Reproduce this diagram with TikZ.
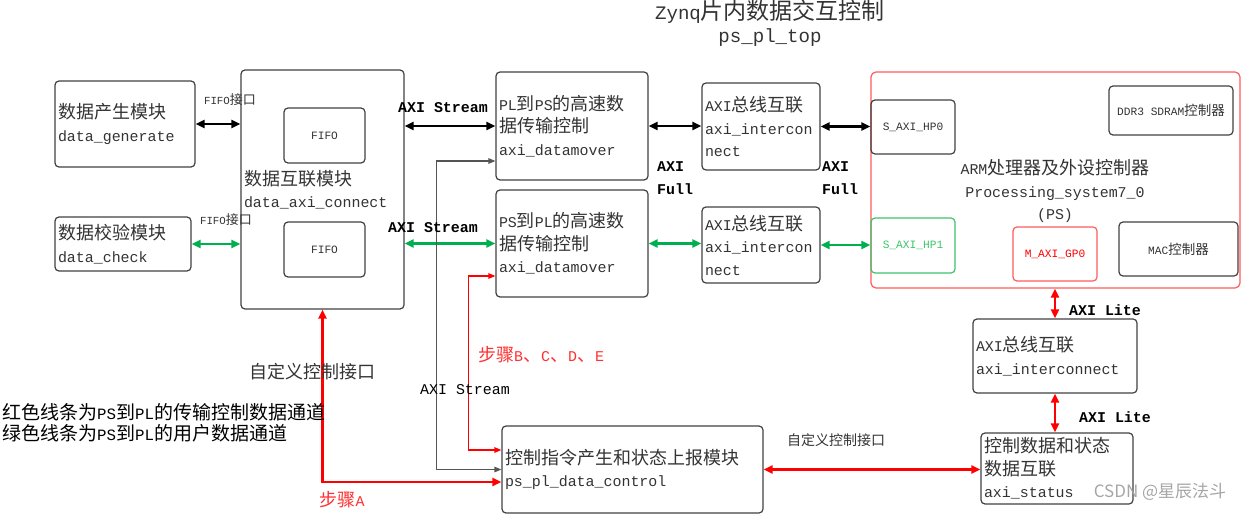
\documentclass[tikz,border=0pt]{standalone}
\usepackage{fontspec}
\setmainfont{Liberation Mono}[Scale=0.83]
\newfontfamily\cjk{Noto Sans CJK SC}
\newcommand\zw[1]{{\cjk #1}}
\usetikzlibrary{arrows.meta,calc}
\definecolor{boxc}{HTML}{404040}
\definecolor{txt}{HTML}{333333}
\definecolor{grn}{HTML}{00B050}
\definecolor{psred}{HTML}{FF5B5B}
\definecolor{hpgrn}{HTML}{3CC36A}
\definecolor{gryline}{HTML}{555555}
\definecolor{lblred}{HTML}{FF3030}
\begin{document}
\begin{tikzpicture}[x=1pt,y=-1pt,
  box/.style={draw=boxc, line width=1.2pt, rounded corners=4pt, inner xsep=3pt, inner ysep=0pt,
    align=left, text=txt, font=\fontsize{18}{22.5}\selectfont},
  sbox/.style={draw=boxc, line width=1.2pt, rounded corners=4pt, inner sep=0pt,
    align=center, text=txt, font=\fontsize{13.5}{16}\selectfont},
  lbl/.style={inner sep=0pt, text=black, font=\bfseries\fontsize{18}{22.5}\selectfont},
  plain/.style={inner sep=0pt, text=txt, font=\fontsize{18}{22.5}\selectfont},
  slbl/.style={inner sep=0pt, text=txt, font=\fontsize{13}{16}\selectfont},
  thk/.style={line width=2.2pt, {Triangle[length=9pt,width=8pt]}-{Triangle[length=9pt,width=8pt]}},
  thin/.style={line width=1.2pt, {Triangle[length=7pt,width=5.5pt]}-{Triangle[length=7pt,width=5.5pt]}},
  blk/.style={thk, draw=black},
  gline/.style={thk, draw=grn},
  rline/.style={thk, draw=red}
]
\useasboundingbox (0,0) rectangle (1243,516);

% title
\node[inner sep=0pt, text=txt, font=\fontsize{23}{28}\selectfont] (title) at (770,12) {Zynq\zw{片内数据交互控制}};
\node[inner sep=0pt, text=txt, font=\fontsize{23}{28}\selectfont] (top) at (770,38) {ps\_pl\_top};

% boxes
\node[box, minimum height=86pt, text width=134pt] (gen) at (125,124) {\zw{数据产生模块}\\data\_generate};
\node[box, minimum height=54pt, text width=130pt] (chk) at (123,244) {\zw{数据校验模块}\\data\_check};
\node[box, minimum height=239pt, text width=157pt] (conn) at (322.5,189.5) {\zw{数据互联模块}\\data\_axi\_connect};
\node[sbox, minimum width=81pt, minimum height=55pt] (fifo1) at (324.5,135.5) {FIFO};
\node[sbox, minimum width=81pt, minimum height=55pt] (fifo2) at (324.5,249.5) {FIFO};

\node[box, minimum height=108pt, text width=146pt] (pl2ps) at (572,126) {PL\zw{到}PS\zw{的高速数}\\\zw{据传输控制}\\axi\_datamover};
\node[box, minimum height=107pt, text width=146pt] (ps2pl) at (572,243.5) {PS\zw{到}PL\zw{的高速数}\\\zw{据传输控制}\\axi\_datamover};

\node[box, minimum height=87pt, text width=112pt] (ic1) at (761,126.5) {AXI\zw{总线互联}\\axi\_intercon\\nect};
\node[box, minimum height=76pt, text width=112pt] (ic2) at (761,245) {AXI\zw{总线互联}\\axi\_intercon\\nect};

\node[draw=psred, line width=1.2pt, rounded corners=5pt, minimum width=369pt, minimum height=216pt, inner sep=0pt] (ps) at (1055.5,180) {};
\node[inner sep=0pt, align=center, text=txt, font=\fontsize{18}{22.5}\selectfont] (pst) at (1055,191) {ARM\zw{处理器及外设控制器}\\Processing\_system7\_0\\(PS)};
\node[sbox, minimum width=84pt, minimum height=54pt] (hp0) at (913,127) {S\_AXI\_HP0};
\node[sbox, minimum width=124pt, minimum height=49pt] (ddr) at (1171,110.5) {DDR3 SDRAM\zw{控制器}};
\node[sbox, draw=hpgrn, text=hpgrn, minimum width=84pt, minimum height=55pt] (hp1) at (913,245.5) {S\_AXI\_HP1};
\node[sbox, draw=psred, text=red, minimum width=84pt, minimum height=54pt] (gp0) at (1055,254) {M\_AXI\_GP0};
\node[sbox, minimum width=119pt, minimum height=54pt] (mac) at (1178.5,249) {MAC\zw{控制器}};

\node[box, minimum height=74pt, text width=158pt] (icl) at (1055,356) {AXI\zw{总线互联}\\axi\_interconnect};
\node[box, minimum height=71pt, text width=146pt] (status) at (1057,468.5) {\zw{控制数据和状态}\\\zw{数据互联}\\axi\_status};
\node[box, minimum height=87pt, text width=255pt] (ctrl) at (632.5,469.5) {\zw{控制指令产生和状态上报模块}\\ps\_pl\_data\_control};

% connectors
\draw[blk] (gen.east) -- (conn.west |- gen.east);
\draw[gline] (chk.east) -- (conn.west |- chk.east);
\draw[blk] (conn.east |- pl2ps.west) -- (pl2ps.west);
\draw[gline] (conn.east |- ps2pl.west) -- (ps2pl.west);
\draw[blk] (pl2ps.east) -- (ic1.west |- pl2ps.east);
\draw[gline] (ps2pl.east) -- (ic2.west |- ps2pl.east);
\draw[blk] (ic1.east) -- (hp0.west |- ic1.east);
\draw[gline] (ic2.east) -- (hp1.west |- ic2.east);
\draw[rline] (gp0 |- ps.south) -- (gp0 |- icl.north);
\draw[rline] (icl.south) -- (status.north -| icl.south);
\draw[rline] (ctrl.east) -- (status.west |- ctrl.east);
\draw[rline] (conn.south) |- ($(ctrl.west)+(0,12.5)$);
\draw[thin, draw=gryline] ($(pl2ps.west)+(0,35)$) -- ++(-59,0) |- (ctrl.west);
\draw[thin, draw=red] ($(ps2pl.west)+(0,32.5)$) -- ++(-27,0) |- ($(ctrl.west)+(0,-19.5)$);

% labels
\node[slbl] (f1) at (230,100) {FIFO\zw{接口}};
\node[slbl] (f2) at (226,220) {FIFO\zw{接口}};
\node[lbl] (as1) at (443,108) {AXI Stream};
\node[lbl] (as2) at (433,228) {AXI Stream};
\node[lbl, anchor=west, align=left] (af1) at (657,178) {AXI\\Full};
\node[lbl, anchor=west, align=left] (af2) at (822,178) {AXI\\Full};
\node[lbl] (al1) at (1105,310) {AXI Lite};
\node[lbl] (al2) at (1115,417) {AXI Lite};
\node[plain] (cu1) at (312,372) {\zw{自定义控制接口}};
\node[plain, text=black] (as3) at (465,390) {AXI Stream};
\node[plain, text=lblred, anchor=west] (sbcde) at (478,355) {\zw{步骤}B\zw{、}C\zw{、}D\zw{、}E};
\node[plain, text=lblred] (sa) at (342,500) {\zw{步骤}A};
\node[slbl, font=\fontsize{14}{17}\selectfont] (cu2) at (836,440) {\zw{自定义控制接口}};
\node[inner sep=0pt, anchor=west, text=black, font=\fontsize{19}{23}\selectfont] (leg1) at (2,412) {\zw{红色线条为}PS\zw{到}PL\zw{的传输控制数据通道}};
\node[inner sep=0pt, anchor=west, text=black, font=\fontsize{19}{23}\selectfont] (leg2) at (2,433) {\zw{绿色线条为}PS\zw{到}PL\zw{的用户数据通道}};
\node[inner sep=0pt, text=black!35, font=\cjk\fontsize{17}{20}\selectfont] (wm) at (1160,492) {CSDN @星辰法斗};
\end{tikzpicture}
\end{document}
